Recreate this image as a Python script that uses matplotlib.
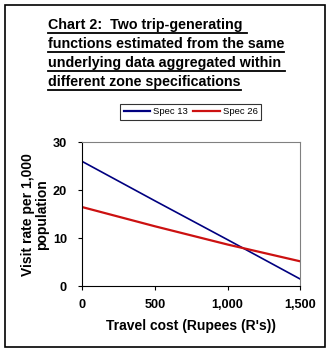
import matplotlib
matplotlib.use("Agg")
import matplotlib.pyplot as plt
from matplotlib.patches import Rectangle
from matplotlib.lines import Line2D
from matplotlib.ticker import FuncFormatter

# data
cost = [0, 500, 1000, 1500]
spec13 = [26.0, 17.8, 9.7, 1.5]
spec26 = [16.5, 12.5, 8.7, 5.2]

title_lines = [
    "Chart 2:  Two trip-generating ",
    "functions estimated from the same",
    "underlying data aggregated within ",
    "different zone specifications",
]

plt.rcParams["font.family"] = ["Liberation Sans", "DejaVu Sans"]

fig = plt.figure(figsize=(3.31, 3.55), dpi=100)
W, H = 331, 355

# outer frame
fig.patches.append(Rectangle((4.5 / W, 1 - 346.5 / H), 320 / W, 342 / H,
                             transform=fig.transFigure, fill=False,
                             edgecolor="black", linewidth=1.2))

ax = fig.add_axes([82.3 / W, 1 - 286.3 / H, 218 / W, 144 / H])
ax.plot(cost, spec13, color="#000080", linewidth=1.2, label="Spec 13")
ax.plot(cost, spec26, color="#cc1111", linewidth=1.6, label="Spec 26")
ax.set_xlim(0, 1500)
ax.set_ylim(0, 30)
ax.set_xticks(cost)
ax.set_yticks([0, 10, 20, 30])
ax.xaxis.set_major_formatter(FuncFormatter(lambda v, p: f"{int(v):,}"))
for s in ["top", "right"]:
    ax.spines[s].set_color("#808080")
for s in ["left", "bottom"]:
    ax.spines[s].set_color("black")
ax.tick_params(direction="out", length=3, width=0.8, labelsize=9.2, pad=8)
ax.tick_params(axis="x", pad=6)
for lab in ax.get_xticklabels() + ax.get_yticklabels():
    lab.set_fontweight("bold")
ax.set_xlabel("Travel cost (Rupees (R's))", fontsize=10, fontweight="bold", labelpad=6)
ax.set_ylabel("Visit rate per 1,000\npopulation", fontsize=10, fontweight="bold",
              labelpad=3, linespacing=0.95)

leg = fig.legend(handles=[Line2D([], [], color="#000080", lw=1.6),
                          Line2D([], [], color="#cc1111", lw=1.6)],
                 labels=["Spec 13", "Spec 26"], loc="center",
                 bbox_to_anchor=(190.5 / W, 1 - 112 / H), ncol=2, fontsize=6.8,
                 frameon=True, fancybox=False, edgecolor="black", handlelength=2.8,
                 handletextpad=0.3, columnspacing=0.6, borderpad=0.35)
leg.get_frame().set_linewidth(0.8)

# underlined title
fig.canvas.draw()
renderer = fig.canvas.get_renderer()
ys = [25, 44, 63, 82]
for txt, y in zip(title_lines, ys):
    t = fig.text(48 / W, 1 - y / H, txt, fontsize=10.3, fontweight="bold",
                 ha="left", va="center")
    bb = t.get_window_extent(renderer=renderer)
    x0, x1 = bb.x0 / W, bb.x1 / W
    yl = 1 - (y + 7.5) / H
    fig.add_artist(Line2D([x0, x1], [yl, yl], transform=fig.transFigure,
                          color="black", linewidth=1.3))

fig.savefig("out.png", dpi=100)
